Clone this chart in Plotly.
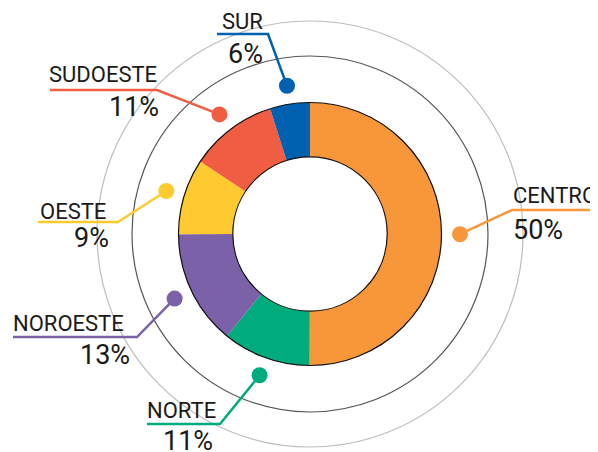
import math
import plotly.graph_objects as go

# ---- data ----
regions = ["CENTRO", "NORTE", "NOROESTE", "OESTE", "SUDOESTE", "SUR"]
shares = [50.0, 10.8, 14.1, 9.3, 10.8, 4.9]          # drawn slice sizes
pct_labels = ["50%", "11%", "13%", "9%", "11%", "6%"]  # printed labels

colors = ["#F7973A", "#00AB7D", "#7A61A8", "#FFCA30", "#F05D42", "#0061B0"]

# ---- layout constants (pixels, in window coordinates) ----
OFF = 8                     # page body margin
W, H = 598 - OFF, 452 - OFF
CX, CY, R = 310, 234, 131.5
HOLE = 0.587
R_DOT = 150
DOT_R = 8
RINGS = [(178, "#555555"), (213, "#bdbdbd")]

# per-region label layout: elbow (x,y), horizontal line end x,
# name anchor (x, y, xanchor), percent anchor (x, y, xanchor)
label_layout = {
    "CENTRO":   dict(elbow=(512, 210), end=598, name=(511, 195, "left"), pct=(511, 230, "left")),
    "NORTE":    dict(elbow=(220, 424), end=147, name=(145, 410, "left"), pct=(215, 441, "right")),
    "NOROESTE": dict(elbow=(137, 337), end=13,  name=(11, 323, "left"),  pct=(132, 355, "right")),
    "OESTE":    dict(elbow=(118, 222), end=38,  name=(38, 211, "left"),  pct=(111, 238, "right")),
    "SUDOESTE": dict(elbow=(157, 90),  end=50,  name=(47, 74, "left"),   pct=(161, 107, "right")),
    "SUR":      dict(elbow=(268, 34),  end=217, name=(220, 21, "left"),  pct=(265, 54, "right")),
}


def px(x):
    return (x - OFF) / W


def py(y):
    return 1 - (y - OFF) / H


fig = go.Figure(
    go.Pie(
        values=shares,
        labels=regions,
        sort=False,
        direction="clockwise",
        rotation=0,
        hole=HOLE,
        marker=dict(colors=colors, line=dict(width=0)),
        textinfo="none",
        hoverinfo="label+percent",
        showlegend=False,
        domain=dict(x=[px(CX - R), px(CX + R)], y=[py(CY + R), py(CY - R)]),
    )
)

shapes = []
# background rings
for rr, col in RINGS:
    shapes.append(dict(type="circle", xref="paper", yref="paper",
                       x0=px(CX - rr), x1=px(CX + rr), y0=py(CY + rr), y1=py(CY - rr),
                       line=dict(color=col, width=1.2), layer="below"))
# donut outlines
for rr in (R, R * HOLE):
    shapes.append(dict(type="circle", xref="paper", yref="paper",
                       x0=px(CX - rr), x1=px(CX + rr), y0=py(CY + rr), y1=py(CY - rr),
                       line=dict(color="#111111", width=1.2)))

annotations = []
total = sum(shares)
cum = 0.0
for name, val, lab, col in zip(regions, shares, pct_labels, colors):
    mid = (cum + val / 2) / total * 2 * math.pi
    cum += val
    dx = CX + R_DOT * math.sin(mid)
    dy = CY - R_DOT * math.cos(mid)
    L = label_layout[name]
    ex, ey = L["elbow"]
    path = f"M {px(dx)} {py(dy)} L {px(ex)} {py(ey)} L {px(L['end'])} {py(ey)}"
    shapes.append(dict(type="path", xref="paper", yref="paper", path=path,
                       line=dict(color=col, width=2.5)))
    shapes.append(dict(type="circle", xref="paper", yref="paper",
                       x0=px(dx - DOT_R), x1=px(dx + DOT_R), y0=py(dy + DOT_R), y1=py(dy - DOT_R),
                       fillcolor=col, line=dict(width=0)))
    nx, ny, na = L["name"]
    annotations.append(dict(text=name, x=px(nx), y=py(ny), xref="paper", yref="paper",
                            xanchor=na, yanchor="middle", showarrow=False,
                            font=dict(family="Roboto", size=22, color="#1a1a1a")))
    qx, qy, qa = L["pct"]
    annotations.append(dict(text=lab, x=px(qx), y=py(qy), xref="paper", yref="paper",
                            xanchor=qa, yanchor="middle", showarrow=False,
                            font=dict(family="Roboto", size=27, color="#1a1a1a")))

fig.update_layout(
    width=W, height=H,
    margin=dict(l=0, r=0, t=0, b=0),
    paper_bgcolor="white", plot_bgcolor="white",
    shapes=shapes, annotations=annotations,
    showlegend=False,
)

fig.write_html("out.html")
